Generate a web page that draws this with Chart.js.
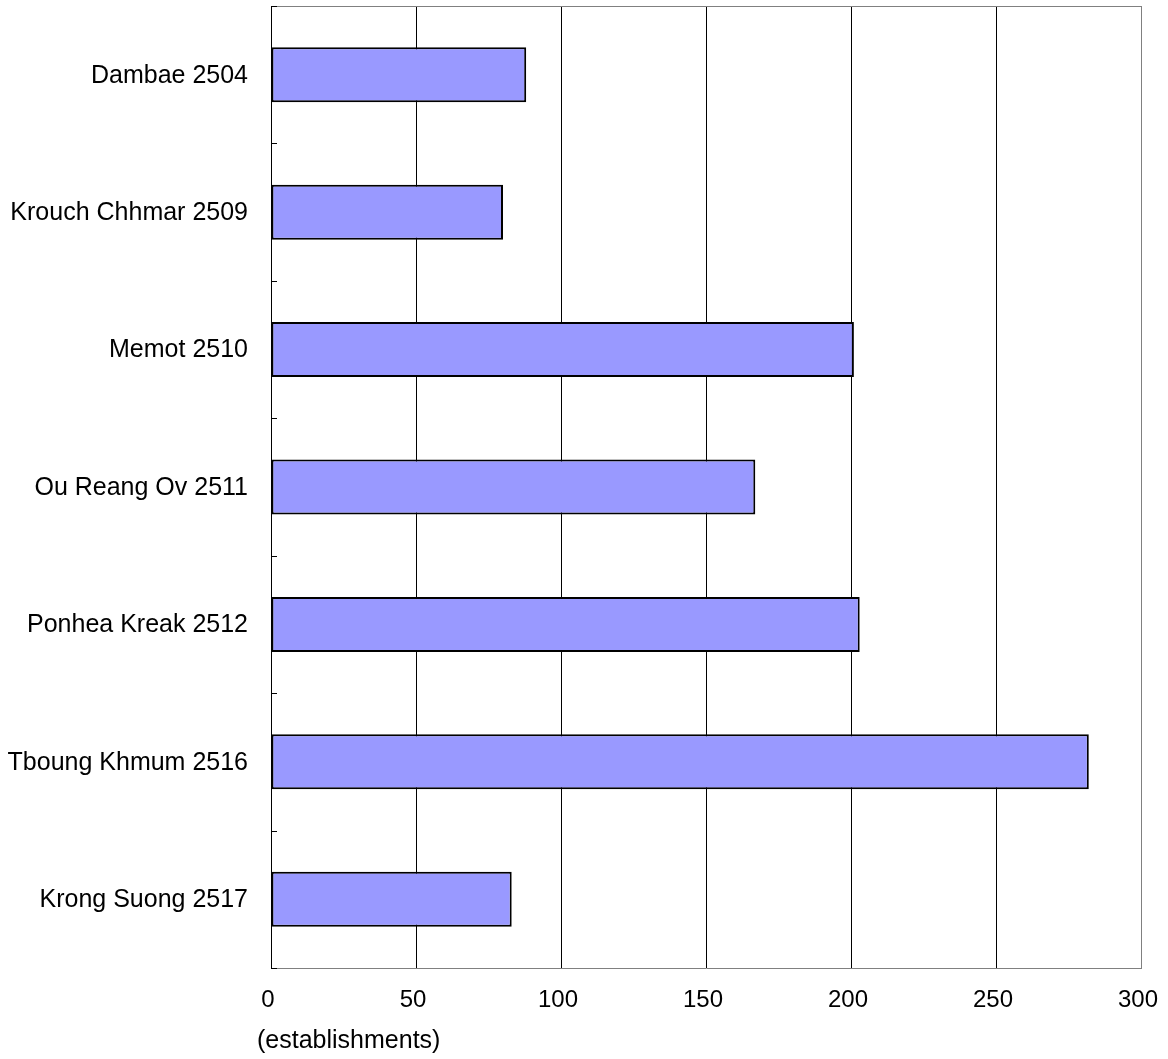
<!DOCTYPE html>
<html>
<head>
<meta charset="utf-8">
<script src="https://cdn.jsdelivr.net/npm/chart.js@4/dist/chart.umd.min.js"></script>
<style>
  html, body { margin: 0; padding: 0; background: #fff; }
  #wrap { width: 1168px; height: 1059px; }
</style>
</head>
<body>
<div id="wrap"><canvas id="chart"></canvas></div>
<script>
// Districts and number of establishments
const districts = [
    "Dambae 2504",
    "Krouch Chhmar 2509",
    "Memot 2510",
    "Ou Reang Ov 2511",
    "Ponhea Kreak 2512",
    "Tboung Khmum 2516",
    "Krong Suong 2517"
];
const establishments = [88, 80, 201, 167, 203, 282, 83];
const xTicks = [0, 50, 100, 150, 200, 250, 300];
const xCaption = "(establishments)";

const fontFamily = "'Liberation Sans', Arial, sans-serif";

// Draws the top border, the little inward ticks between categories and the caption
const framePlugin = {
    id: 'frame',
    afterDraw(chart) {
        const ctx = chart.ctx;
        const area = chart.chartArea;
        const y = chart.scales.y;
        const step = (y.getPixelForValue(1) - y.getPixelForValue(0));
        ctx.save();
        ctx.strokeStyle = '#808080';
        ctx.lineWidth = 1;
        ctx.beginPath();
        ctx.moveTo(area.left, area.top + 0.5);
        ctx.lineTo(area.right, area.top + 0.5);
        ctx.stroke();

        ctx.strokeStyle = '#000';
        ctx.beginPath();
        for (let i = 0; i <= districts.length; i++) {
            const py = Math.round(y.getPixelForValue(i) - step / 2) + 0.5;
            ctx.moveTo(area.left, py);
            ctx.lineTo(area.left + 6, py);
        }
        ctx.stroke();

        ctx.fillStyle = '#000';
        ctx.font = '25px ' + fontFamily;
        ctx.textAlign = 'left';
        ctx.textBaseline = 'middle';
        ctx.fillText(xCaption, 257, 1041);
        ctx.restore();
    }
};

const ctx = document.getElementById('chart');
const myChart = new Chart(ctx, {
    type: 'bar',
    data: {
        labels: districts,
        datasets: [{
            data: establishments,
            backgroundColor: '#9999FF',
            borderColor: '#000000',
            borderWidth: 2,
            borderSkipped: false,
            barPercentage: 0.4,
            categoryPercentage: 1.0
        }]
    },
    options: {
        indexAxis: 'y',
        responsive: true,
        maintainAspectRatio: false,
        animation: false,
        layout: {
            padding: { top: 6, right: 27, left: 0, bottom: 0 }
        },
        plugins: {
            legend: { display: false },
            tooltip: { enabled: false }
        },
        scales: {
            x: {
                min: 0,
                max: 300,
                afterBuildTicks: (scale) => {
                    scale.ticks = xTicks.map(v => ({ value: v }));
                },
                afterFit: (scale) => {
                    scale.height = 91;
                    scale.paddingLeft = 0;
                    scale.paddingRight = 0;
                },
                grid: {
                    drawTicks: false,
                    color: (c) => (c.index === xTicks.length - 1 ? '#808080' : '#000000'),
                    lineWidth: 1
                },
                border: { color: '#808080', width: 1 },
                ticks: {
                    padding: 18,
                    labelOffset: -3,
                    color: '#000',
                    font: { family: fontFamily, size: 24 }
                }
            },
            y: {
                afterFit: (scale) => {
                    scale.width = 271;
                    scale.paddingTop = 0;
                    scale.paddingBottom = 0;
                },
                grid: { display: false, drawTicks: false },
                border: { color: '#000000', width: 1 },
                ticks: {
                    padding: 23,
                    labelOffset: 1,
                    color: '#000',
                    font: { family: fontFamily, size: 25 }
                }
            }
        }
    },
    plugins: [framePlugin]
});
</script>
</body>
</html>
